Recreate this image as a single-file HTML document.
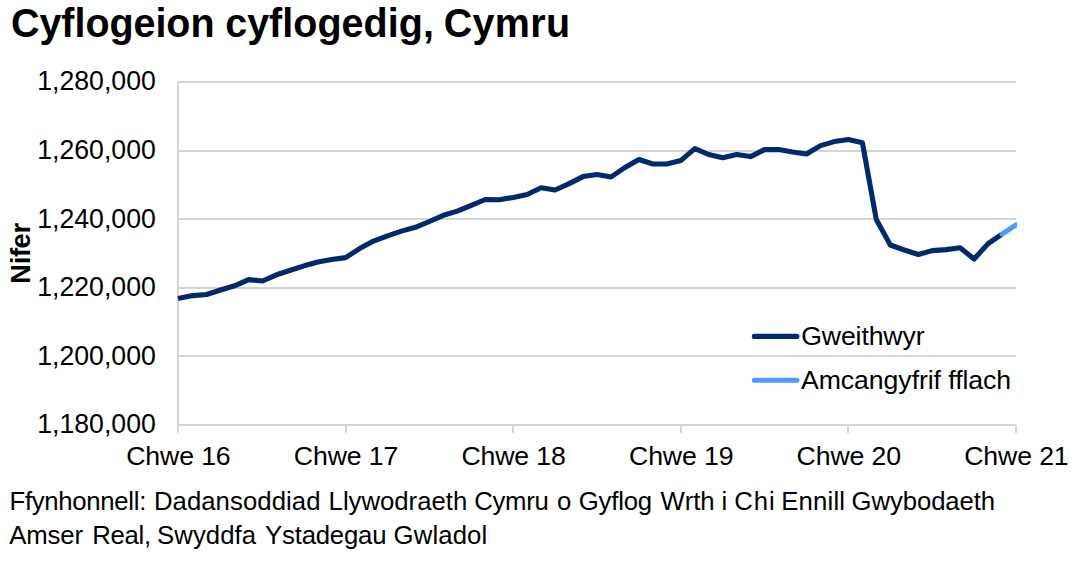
<!DOCTYPE html>
<html lang="cy">
<head>
<meta charset="utf-8">
<title>Cyflogeion cyflogedig, Cymru</title>
<style>
html,body{margin:0;padding:0;background:#fff;}
body{width:1080px;height:564px;overflow:hidden;}
svg{display:block;}
text{font-family:"Liberation Sans",Arial,sans-serif;fill:#000;font-variant-ligatures:none;}
.ax{font-size:26.67px;}
.src{font-size:25.73px;font-kerning:none;}
.title{font-size:39.5px;font-weight:bold;font-kerning:none;}
.ylab{font-size:27.3px;font-weight:bold;letter-spacing:-0.35px;}
.grid rect{fill:#d5d5d5;shape-rendering:crispEdges;}
</style>
</head>
<body>
<svg width="1080" height="564" viewBox="0 0 1080 564">
<rect width="1080" height="564" fill="#ffffff"/>
<text class="title" transform="translate(0,36.6) scale(1,1.05)"><tspan x="10.98" style="letter-spacing:-0.045px">Cyflogeion </tspan><tspan x="225.16" style="letter-spacing:0.029px">cyflogedig, </tspan><tspan x="443.68" style="letter-spacing:0.352px">Cymru</tspan></text>
<g class="grid">
<rect x="178" y="81" width="838" height="2"/>
<rect x="178" y="150" width="838" height="2"/>
<rect x="178" y="218" width="838" height="2"/>
<rect x="178" y="287" width="838" height="2"/>
<rect x="178" y="355" width="838" height="2"/>
<rect x="178" y="424" width="838" height="2"/>
<rect x="177" y="82" width="2" height="351"/>
<rect x="177" y="425" width="2" height="8"/>
<rect x="345" y="425" width="2" height="8"/>
<rect x="512" y="425" width="2" height="8"/>
<rect x="680" y="425" width="2" height="8"/>
<rect x="847" y="425" width="2" height="8"/>
<rect x="1015" y="425" width="2" height="8"/>
</g>
<g class="ax">
<text transform="translate(155.8,90) scale(1,1.04)" text-anchor="end">1,280,000</text>
<text transform="translate(155.8,159) scale(1,1.04)" text-anchor="end">1,260,000</text>
<text transform="translate(155.8,228) scale(1,1.04)" text-anchor="end">1,240,000</text>
<text transform="translate(155.8,296) scale(1,1.04)" text-anchor="end">1,220,000</text>
<text transform="translate(155.8,365) scale(1,1.04)" text-anchor="end">1,200,000</text>
<text transform="translate(155.8,433) scale(1,1.04)" text-anchor="end">1,180,000</text>
<text x="178.4" y="464.5" text-anchor="middle" style="letter-spacing:-0.12px">Chwe 16</text>
<text x="346.0" y="464.5" text-anchor="middle" style="letter-spacing:-0.12px">Chwe 17</text>
<text x="513.6" y="464.5" text-anchor="middle" style="letter-spacing:-0.12px">Chwe 18</text>
<text x="681.2" y="464.5" text-anchor="middle" style="letter-spacing:-0.12px">Chwe 19</text>
<text x="848.8" y="464.5" text-anchor="middle" style="letter-spacing:-0.12px">Chwe 20</text>
<text x="1016.4" y="464.5" text-anchor="middle" style="letter-spacing:-0.12px">Chwe 21</text>
</g>
<text class="ylab" transform="translate(30.2,253.5) rotate(-90)" text-anchor="middle">Nifer</text>
<polyline points="178.0,298.6 192.7,295.6 206.6,294.5 220.6,290.0 234.6,285.8 248.5,279.6 262.5,281.0 276.5,274.8 290.4,270.3 304.1,265.8 317.9,262.0 331.6,259.5 345.6,257.6 359.6,248.6 373.5,241.1 387.5,235.8 401.5,231.1 415.4,227.3 429.4,221.5 443.4,215.3 457.3,211.1 471.3,205.3 485.3,199.5 499.2,199.8 513.2,197.4 527.2,194.5 541.1,187.8 555.1,190.0 569.1,183.6 583.0,176.6 597.0,174.5 611.0,177.0 624.9,167.5 638.9,159.5 652.9,164.0 666.8,164.0 680.8,160.6 694.8,148.6 708.7,154.5 722.7,157.8 736.7,154.5 750.6,156.6 764.6,149.6 778.6,149.6 792.5,152.0 806.5,154.0 820.5,145.6 834.4,141.6 848.4,139.5 862.4,142.8 876.3,219.5 890.3,245.0 904.3,250.0 918.2,254.5 932.2,250.6 946.2,249.6 960.1,247.8 974.1,259.0 988.1,243.6 1002.0,234.1" fill="none" stroke="#002a6c" stroke-width="5.1" stroke-linejoin="round" stroke-linecap="butt"/>
<clipPath id="plotclip"><rect x="170" y="70" width="847" height="363"/></clipPath>
<polyline points="1002.0,234.1 1016.0,224.9" fill="none" stroke="#4f9bfa" stroke-width="5.1" stroke-linejoin="round" stroke-linecap="round" clip-path="url(#plotclip)"/>
<line x1="754.4" y1="336.4" x2="796.9" y2="336.4" stroke="#002a6c" stroke-width="5.1" stroke-linecap="round"/>
<line x1="754.4" y1="380.2" x2="796.9" y2="380.2" stroke="#4f9bfa" stroke-width="5.1" stroke-linecap="round"/>
<g class="ax">
<text x="801.2" y="345.1" style="letter-spacing:-0.13px">Gweithwyr</text>
<text x="801.0" y="389.2" style="letter-spacing:-0.07px">Amcangyfrif fflach</text>
</g>
<g class="src">
<text y="509.6"><tspan x="9.49" style="letter-spacing:-0.301px">Ffynhonnell: </tspan><tspan x="153.89" style="letter-spacing:0.065px">Dadansoddiad </tspan><tspan x="328.59" style="letter-spacing:-0.006px">Llywodraeth </tspan><tspan x="474.29" style="letter-spacing:-0.311px">Cymru </tspan><tspan x="557.12" style="letter-spacing:0.000px">o </tspan><tspan x="578.71" style="letter-spacing:-0.182px">Gyflog </tspan><tspan x="660.59" style="letter-spacing:-0.109px">Wrth </tspan><tspan x="721.58" style="letter-spacing:0.000px">i </tspan><tspan x="734.29" style="letter-spacing:0.866px">Chi </tspan><tspan x="781.19" style="letter-spacing:0.180px">Ennill </tspan><tspan x="851.61" style="letter-spacing:-0.100px">Gwybodaeth</tspan></text>
<text y="543.9"><tspan x="9.25" style="letter-spacing:-0.115px">Amser </tspan><tspan x="92.29" style="letter-spacing:-0.286px">Real, </tspan><tspan x="157.03" style="letter-spacing:0.080px">Swyddfa </tspan><tspan x="265.03" style="letter-spacing:-0.183px">Ystadegau </tspan><tspan x="393.61" style="letter-spacing:0.110px">Gwladol</tspan></text>
</g>
</svg>
</body>
</html>
